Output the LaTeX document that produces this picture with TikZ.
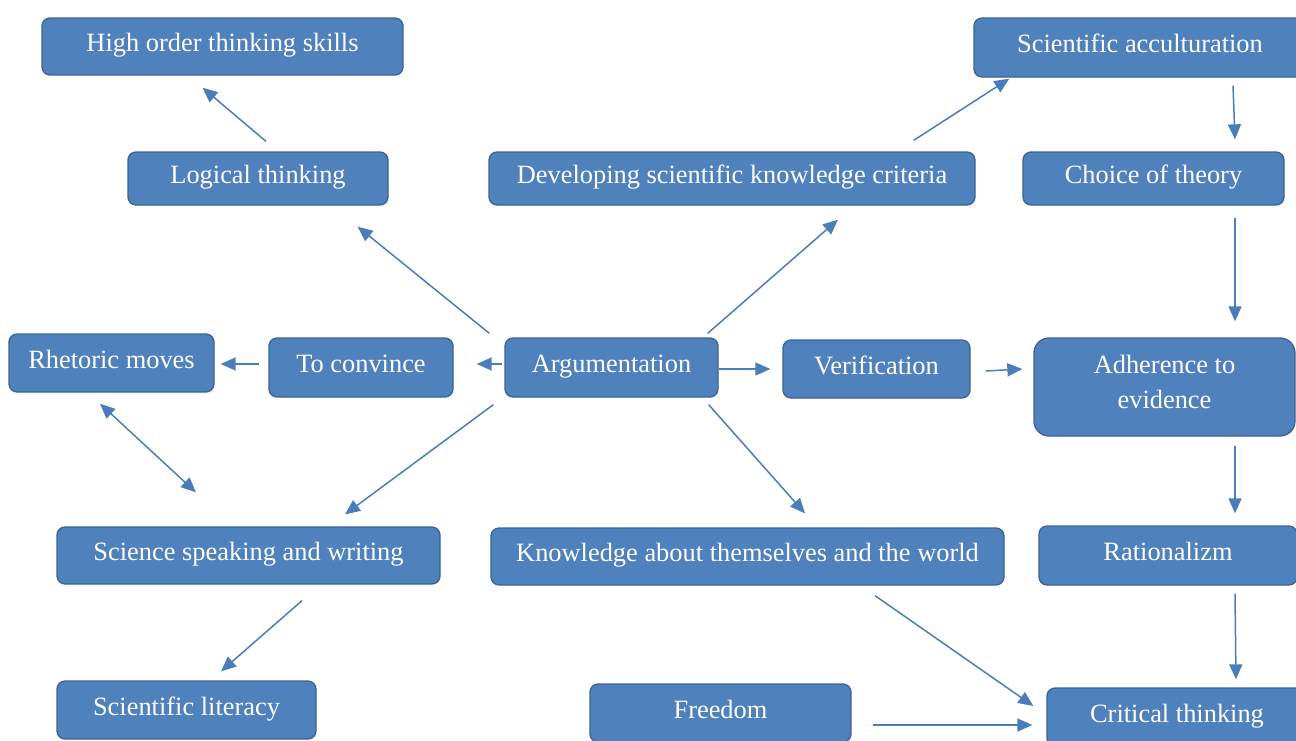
\documentclass[tikz,border=0pt]{standalone}
\usepackage{fontspec}
\setmainfont{Liberation Serif}
\usepackage{xcolor}
\usetikzlibrary{arrows.meta}
\definecolor{boxfill}{HTML}{4F81BD}
\definecolor{boxline}{HTML}{3A6392}
\definecolor{arrcol}{HTML}{4A7EBB}

\begin{document}
\begin{tikzpicture}[x=1pt,y=-1pt,
  box/.style={draw=boxline,line width=1.3pt,fill=boxfill,rounded corners=8pt,
    inner sep=0pt,text=white,font=\fontsize{26.4}{35}\selectfont,
    text height=18pt,text depth=8pt},
  arr/.style={draw=arrcol,line width=1.5pt,-{Triangle[length=15pt,width=13pt]}},
  darr/.style={arr,{Triangle[length=15pt,width=13pt]}-{Triangle[length=15pt,width=13pt]}}]
\useasboundingbox (0,0) rectangle (1296,740);
\clip (0,0) rectangle (1296,740);
% boxes
\node[box,minimum width=361pt,minimum height=57pt] (hots) at (222.5,46.5) {High order thinking skills};
\node[box,minimum width=260pt,minimum height=53pt] (logic) at (258,178.5) {Logical thinking};
\node[box,minimum width=486pt,minimum height=53pt] (crit) at (732,178.5) {Developing scientific knowledge criteria};
\node[box,minimum width=332pt,minimum height=59pt] (accult) at (1140,47.5) {Scientific acculturation};
\node[box,minimum width=261pt,minimum height=53pt] (choice) at (1153.5,178.5) {Choice of theory};
\node[box,minimum width=205pt,minimum height=58pt] (rhet) at (111.5,363) {Rhetoric moves};
\node[box,minimum width=184pt,minimum height=59pt] (conv) at (361,367.5) {To convince};
\node[box,minimum width=213pt,minimum height=59pt] (arg) at (611.5,367.5) {Argumentation};
\node[box,minimum width=187pt,minimum height=58pt] (verif) at (876.5,369) {Verification};
\node[box,minimum width=261pt,minimum height=98pt,rounded corners=15pt,align=center,
  text height=53pt,text depth=11pt] (adh) at (1164.5,387) {Adherence to\\evidence};
\node[box,minimum width=383pt,minimum height=57pt] (speak) at (248.5,555.5) {Science speaking and writing};
\node[box,minimum width=513pt,minimum height=57pt] (know) at (747.5,556.5) {Knowledge about themselves and the world};
\node[box,minimum width=258pt,minimum height=59pt] (ratio) at (1168,555.5) {Rationalizm};
\node[box,minimum width=259pt,minimum height=58pt] (lit) at (186.5,710) {Scientific literacy};
\node[box,minimum width=261pt,minimum height=58pt] (free) at (720.5,713) {Freedom};
\node[box,minimum width=260pt,minimum height=58pt] (critic) at (1177,717) {Critical thinking};
% arrows
\draw[arr] ([shift={(8,-10)}]logic.north) -- ([shift={(-20,12)}]hots.south);
\draw[arr] ([shift={(-15,-4)}]arg.north west) -- ([shift={(-31,21)}]logic.south east);
\draw[arr] ([shift={(-11,-4)}]arg.north east) -- ([shift={(106,14)}]crit.south);
\draw[arr] ([shift={(-62,-11)}]crit.north east) -- ([shift={(36,1)}]accult.south west);
\draw[arr] ([shift={(93,8)}]accult.south) -- ([shift={(81.5,-12)}]choice.north);
\draw[arr] ([shift={(81.5,12)}]choice.south) -- ([shift={(70.5,-16)}]adh.north);
\draw[arr] ([shift={(-2,-3.5)}]arg.west) -- ([shift={(23,-3.5)}]conv.east);
\draw[arr] ([shift={(-9,-3.5)}]conv.west) -- ([shift={(6,1)}]rhet.east);
\draw[arr] ([shift={(0,1.5)}]arg.east) -- ([shift={(-12,0)}]verif.west);
\draw[arr] ([shift={(15,2)}]verif.east) -- ([shift={(-11,-18)}]adh.west);
\draw[arr] ([shift={(70.5,9)}]adh.south) -- ([shift={(67,-12)}]ratio.north);
\draw[arr] ([shift={(67,8)}]ratio.south) -- ([shift={(59,-8)}]critic.north);
\draw[arr] ([shift={(-11,7)}]arg.south west) -- ([shift={(96.5,-12)}]speak.north);
\draw[arr] ([shift={(-10,7)}]arg.south east) -- ([shift={(57.5,-14)}]know.north);
\draw[darr] ([shift={(-11.5,11)}]rhet.south) -- ([shift={(-52.5,-34)}]speak.north);
\draw[arr] ([shift={(53.5,16)}]speak.south) -- ([shift={(34.5,-9)}]lit.north);
\draw[arr] ([shift={(127.5,10)}]know.south) -- ([shift={(-13,-11)}]critic.west);
\draw[arr] ([shift={(21,12)}]free.east) -- ([shift={(-14,8)}]critic.west);
\end{tikzpicture}
\end{document}
